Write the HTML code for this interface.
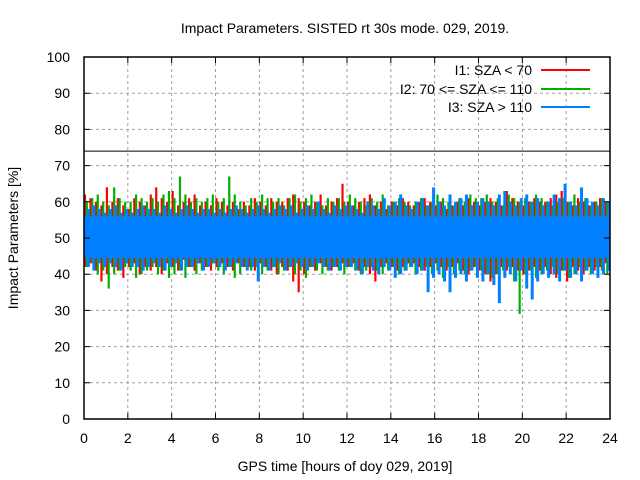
<!DOCTYPE html>
<html><head><meta charset="utf-8"><style>
body{margin:0;background:#fff}
svg{display:block;font-family:"Liberation Sans",sans-serif}
</style></head><body>
<svg id="chart" width="640" height="480">
<text x="345" y="33" font-size="14" text-anchor="middle">Impact Parameters. SISTED rt 30s mode. 029, 2019.</text>
<text transform="translate(18,238) rotate(-90)" font-size="14" text-anchor="middle">Impact Parameters [%]</text>
<text x="345" y="471" font-size="14" text-anchor="middle">GPS time [hours of doy 029, 2019]</text>
<g id="grid"></g><g id="marks"></g><g id="axes"></g>
<g font-size="14">
<text x="532" y="75" text-anchor="end">I1: SZA &lt; 70</text>
<line x1="541" x2="590" y1="70" y2="70" stroke="#f00" stroke-width="2"/>
<text x="532" y="94" text-anchor="end">I2: 70 &lt;= SZA &lt;= 110</text>
<line x1="541" x2="590" y1="89" y2="89" stroke="#00b000" stroke-width="2"/>
<text x="532" y="112" text-anchor="end">I3: SZA &gt; 110</text>
<line x1="541" x2="590" y1="107" y2="107" stroke="#0080ff" stroke-width="2"/>
</g>
</svg>
<script>
const xTicks=[0,2,4,6,8,10,12,14,16,18,20,22,24];
const yTicks=[0,10,20,30,40,50,60,70,80,90,100];
const thresholdValue=74;
const coreLo=44.5, coreHi=56;
const redHi=[62,61,60,59,64,60,61,59,58,61,60,59, 62,64,61,60,63,59,60,61,62,59,60,59, 61,60,59,60,58,60,59,61,60,59,61,60, 60,61,62,61,60,59,60,62,59,60,61,65, 60,59,60,61,62,59,60,58,60,59,61,60, 59,60,61,60,59,60,58,59,60,59,61,60, 59,60,61,60,59,63,61,60,59,60,61,60, 60,61,62,63,60,59,61,60,59,60,61,60];
const redLo=[42,43,41,38,40,42,41,39,42,43,40,42, 41,42,40,43,42,41,44,42,41,43,42,41, 42,43,42,41,43,42,42,41,43,42,41,40, 42,41,38,35,40,42,41,43,42,41,42,43, 42,43,41,42,40,38,42,43,42,41,42,43, 43,42,41,42,43,42,41,42,43,41,40,42, 41,40,38,40,42,41,42,41,40,41,42,41, 42,40,39,41,38,42,41,40,42,41,42,43];
const greenHi=[60,61,62,60,59,64,61,60,60,62,61,60, 61,60,62,63,61,67,62,60,61,60,61,62, 60,61,67,62,60,59,61,60,62,61,60,61, 59,61,62,60,61,62,60,59,61,60,61,60, 62,61,60,59,61,60,62,59,60,61,60,59, 60,61,59,60,62,61,60,59,61,60,62,61, 61,62,60,61,59,62,61,60,61,60,62,61, 60,59,60,61,60,62,60,61,59,60,61,60];
const greenLo=[42,43,40,41,36,40,41,42,41,39,40,41, 42,40,41,39,40,41,39,42,40,41,42,43, 41,40,42,39,40,42,41,42,40,41,42,40, 41,42,40,41,39,42,41,40,41,42,41,40, 42,41,40,41,42,41,40,41,42,40,41,42, 40,41,42,40,41,39,42,40,41,40,41,42, 41,40,39,40,41,42,38,29,40,41,39,40, 41,42,40,41,39,40,42,41,40,42,41,40];
const blueHi=[58,59,58,57,58,59,57,58,57,58,59,58, 58,57,59,58,57,58,59,58,57,58,58,57, 58,57,58,59,58,57,58,59,58,57,58,59, 58,59,57,58,59,58,60,58,57,59,58,59, 59,58,57,60,59,58,61,59,60,62,59,58, 60,61,59,64,60,59,62,60,61,62,59,60, 61,60,59,62,63,60,59,61,62,60,61,59, 60,62,61,65,60,59,64,61,60,59,61,60];
const blueLo=[42,41,43,42,43,42,41,43,42,42,41,42, 43,42,41,42,43,41,42,42,43,41,42,43, 42,41,42,43,42,41,42,38,42,41,42,43, 41,42,43,42,41,42,43,42,41,42,41,42, 42,41,40,42,41,40,42,41,39,40,41,42, 40,41,35,39,40,38,35,39,40,38,41,39, 38,40,37,32,39,40,38,41,36,33,38,40, 39,40,38,41,39,40,38,41,40,39,40,41];

const NS='http://www.w3.org/2000/svg';
const L=84,R=610,T=57,B=419;
const xs=h=>L+(R-L)*h/24;
const ys=v=>B-(B-T)*v/100;
function mk(tag,attrs,parent){const e=document.createElementNS(NS,tag);for(const k in attrs)e.setAttribute(k,attrs[k]);parent.appendChild(e);return e;}
const grid=document.getElementById('grid'),marks=document.getElementById('marks'),axes=document.getElementById('axes');
xTicks.forEach(t=>{
  if(t>0&&t<24){const g=mk('line',{x1:xs(t),x2:xs(t),y1:T,y2:B,stroke:'#a0a0a0','stroke-dasharray':'3,3'},grid);
  
  }
  const tk=mk('path',{d:`M${xs(t)},${B}v-6M${xs(t)},${T}v6`,stroke:'#000'},axes);
  
  
  const lb=mk('text',{x:xs(t),y:B+24,'font-size':14,'text-anchor':'middle'},axes);lb.textContent=t;
  
  
});
yTicks.forEach(t=>{
  if(t>0&&t<100){const g=mk('line',{x1:L,x2:R,y1:ys(t),y2:ys(t),stroke:'#a0a0a0','stroke-dasharray':'3,3'},grid);
  
  }
  const tk=mk('path',{d:`M${L},${ys(t)}h6M${R},${ys(t)}h-6`,stroke:'#000'},axes);
  
  
  const lb=mk('text',{x:L-14,y:ys(t)+5,'font-size':14,'text-anchor':'end'},axes);lb.textContent=t;
  
  
});
function series(hi,lo,color,off,w,name){
  const n=hi.length,bw=24/n;
  for(let i=0;i<n;i++){
    const x=xs(i*bw)+off+1;
    const ln=mk('line',{x1:x,x2:x,y1:ys(hi[i]),y2:ys(lo[i]),stroke:color,'stroke-width':w},marks);
    
    
  }
}
series(redHi,redLo,'#ff0000',0,2.2,'i1');
series(greenHi,greenLo,'#00b000',1.8,2.2,'i2');
series(blueHi,blueLo,'#0080ff',3.4,3,'i3');
const core=mk('rect',{x:L,y:ys(coreHi),width:R-L,height:ys(coreLo)-ys(coreHi),fill:'#0080ff'},marks);


const th=mk('line',{x1:L,x2:R,y1:ys(thresholdValue),y2:ys(thresholdValue),stroke:'#000','stroke-width':1},marks);


const fr=mk('rect',{x:L,y:T,width:R-L,height:B-T,fill:'none',stroke:'#000','stroke-width':1.5},axes);


</script>
</body></html>
